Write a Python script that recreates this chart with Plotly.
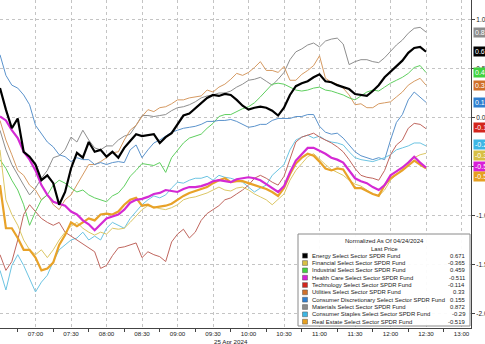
import pandas as pd
import plotly.graph_objects as go

# 5-minute bars, 25 Apr 2024, 06:30 - 12:30
times = pd.date_range("2024-04-25 06:30", periods=73, freq="5min")

funds = [
    "Energy Select Sector SPDR Fund",
    "Financial Select Sector SPDR Fund",
    "Industrial Select Sector SPDR Fund",
    "Health Care Select Sector SPDR Fund",
    "Technology Select Sector SPDR Fund",
    "Utilities Select Sector SPDR Fund",
    "Consumer Discretionary Select Sector SPDR Fund",
    "Materials Select Sector SPDR Fund",
    "Consumer Staples Select Sector SPDR Fund",
    "Real Estate Select Sector SPDR Fund",
]

energy = [0.30, 0.08, -0.11, -0.01, -0.35, -0.40, -0.48, -0.64, -0.59, -0.67,
          -0.89, -0.76, -0.52, -0.36, -0.41, -0.25, -0.35, -0.33, -0.40, -0.35,
          -0.41, -0.31, -0.24, -0.17, -0.19, -0.18, -0.17, -0.26, -0.20, -0.16,
          -0.07, 0.02, 0.04, 0.09, 0.14, 0.20, 0.23, 0.22, 0.24, 0.23,
          0.18, 0.12, 0.08, 0.10, 0.11, 0.10, 0.07, 0.02, 0.10, 0.23,
          0.32, 0.35, 0.37, 0.41, 0.44, 0.37, 0.36, 0.33, 0.31, 0.29,
          0.24, 0.23, 0.22, 0.27, 0.33, 0.41, 0.47, 0.53, 0.58, 0.66,
          0.71, 0.72, 0.671]
financial = [-0.33, -0.84, -0.99, -1.10, -1.25, -1.35, -1.40, -1.35, -1.43, -1.35,
             -1.25, -1.17, -1.11, -1.07, -1.13, -1.17, -1.20, -1.17, -1.19, -1.13,
             -1.14, -1.13, -1.07, -1.01, -0.94, -0.90, -0.91, -0.93, -0.94, -0.92,
             -0.89, -0.84, -0.82, -0.81, -0.79, -0.77, -0.74, -0.71, -0.74, -0.75,
             -0.72, -0.71, -0.74, -0.78, -0.81, -0.84, -0.89, -0.84, -0.78, -0.64,
             -0.54, -0.47, -0.40, -0.37, -0.43, -0.48, -0.53, -0.56, -0.59, -0.64,
             -0.68, -0.70, -0.74, -0.78, -0.80, -0.74, -0.64, -0.58, -0.52, -0.46,
             -0.41, -0.38, -0.365]
industrial = [-0.43, -0.52, -0.64, -0.74, -0.89, -1.10, -0.96, -0.84, -0.79, -0.69,
              -0.64, -0.67, -0.72, -0.76, -0.74, -0.79, -0.82, -0.84, -0.86, -0.80,
              -0.77, -0.70, -0.60, -0.54, -0.47, -0.48, -0.49, -0.46, -0.56, -0.41,
              -0.33, -0.26, -0.21, -0.19, -0.17, -0.11, -0.06, 0.01, 0.03, 0.03,
              0.06, 0.09, 0.11, 0.15, 0.21, 0.28, 0.34, 0.35, 0.34, 0.31,
              0.28, 0.27, 0.28, 0.30, 0.31, 0.28, 0.27, 0.25, 0.23, 0.20,
              0.18, 0.22, 0.26, 0.28, 0.27, 0.31, 0.35, 0.38, 0.41, 0.45,
              0.51, 0.53, 0.459]
health_care = [0.01, -0.03, -0.13, -0.21, -0.35, -0.43, -0.54, -0.69, -0.79, -0.86,
               -0.88, -0.90, -0.96, -0.99, -1.05, -1.09, -1.15, -1.09, -1.03, -1.01,
               -0.99, -0.94, -0.87, -0.84, -0.83, -0.81, -0.78, -0.77, -0.74, -0.75,
               -0.76, -0.73, -0.71, -0.71, -0.70, -0.68, -0.65, -0.64, -0.65, -0.66,
               -0.63, -0.62, -0.61, -0.62, -0.64, -0.68, -0.72, -0.76, -0.70, -0.56,
               -0.44, -0.37, -0.31, -0.31, -0.34, -0.37, -0.41, -0.43, -0.46, -0.54,
               -0.62, -0.65, -0.67, -0.71, -0.74, -0.69, -0.59, -0.55, -0.51, -0.46,
               -0.40, -0.46, -0.511]
technology = [-1.40, -1.56, -1.47, -1.25, -0.99, -0.89, -0.96, -1.03, -1.07, -1.10,
              -1.07, -1.17, -1.21, -1.25, -1.29, -1.33, -1.37, -1.54, -1.51, -1.41,
              -1.33, -1.32, -1.30, -1.28, -1.43, -1.37, -1.40, -1.42, -1.47, -1.27,
              -1.19, -1.14, -1.23, -1.17, -1.05, -0.98, -0.94, -0.90, -0.84, -0.82,
              -0.78, -0.74, -0.69, -0.62, -0.59, -0.62, -0.66, -0.69, -0.60, -0.43,
              -0.25, -0.20, -0.18, -0.16, -0.20, -0.23, -0.26, -0.30, -0.35, -0.43,
              -0.52, -0.59, -0.61, -0.62, -0.64, -0.54, -0.38, -0.28, -0.23, -0.11,
              -0.06, -0.07, -0.114]
utilities = [-0.03, -0.23, -0.38, -0.54, -0.59, -0.69, -0.74, -0.84, -0.79, -0.89,
             -0.94, -0.84, -0.79, -0.69, -0.59, -0.48, -0.48, -0.45, -0.41, -0.36,
             -0.35, -0.23, -0.13, -0.08, 0.01, 0.08, 0.06, 0.10, 0.11, 0.14,
             0.18, 0.18, 0.20, 0.21, 0.22, 0.28, 0.26, 0.31, 0.34, 0.39,
             0.45, 0.43, 0.46, 0.51, 0.57, 0.48, 0.48, 0.46, 0.52, 0.38,
             0.38, 0.44, 0.48, 0.53, 0.63, 0.40, 0.36, 0.34, 0.30, 0.23,
             0.13, 0.14, 0.10, 0.10, 0.14, 0.15, 0.16, 0.21, 0.26, 0.33,
             0.37, 0.40, 0.33]
discretionary = [0.64, 0.43, 0.33, 0.30, 0.23, 0.13, -0.08, -0.16, -0.25, -0.30,
                 -0.38, -0.40, -0.45, -0.41, -0.43, -0.43, -0.48, -0.46, -0.48, -0.46,
                 -0.45, -0.46, -0.33, -0.28, -0.41, -0.33, -0.26, -0.23, -0.19, -0.15,
                 -0.13, -0.11, -0.10, -0.09, -0.07, -0.04, -0.04, -0.03, -0.03, -0.02,
                 -0.04, -0.07, -0.10, -0.09, -0.07, -0.07, -0.03, -0.01, -0.01, -0.01,
                 0.01, 0.01, 0.03, 0.03, -0.09, -0.15, -0.17, -0.16, -0.21, -0.28,
                 -0.35, -0.39, -0.41, -0.43, -0.41, -0.43, -0.23, -0.05, 0.03, 0.18,
                 0.26, 0.21, 0.155]
materials = [-0.13, -0.33, -0.48, -0.59, -0.69, -0.79, -0.72, -0.62, -0.54, -0.41,
             -0.39, -0.33, -0.20, -0.25, -0.13, -0.23, -0.31, -0.33, -0.29, -0.29,
             -0.23, -0.19, -0.17, -0.08, 0.02, 0.02, 0.01, 0.02, 0.03, 0.07,
             0.10, 0.11, 0.13, 0.16, 0.20, 0.22, 0.23, 0.25, 0.25, 0.27,
             0.31, 0.34, 0.38, 0.39, 0.41, 0.37, 0.33, 0.39, 0.46, 0.59,
             0.67, 0.70, 0.74, 0.76, 0.72, 0.78, 0.80, 0.81, 0.75, 0.54,
             0.57, 0.59, 0.59, 0.57, 0.56, 0.61, 0.68, 0.74, 0.79, 0.86,
             0.91, 0.92, 0.872]
staples = [-1.56, -1.76, -1.51, -1.40, -1.51, -1.64, -1.78, -1.68, -1.61, -1.47,
           -1.35, -1.30, -1.25, -1.23, -1.17, -1.25, -1.21, -1.25, -1.13, -1.07,
           -1.10, -1.13, -1.03, -0.96, -0.89, -0.84, -0.80, -0.82, -0.79, -0.72,
           -0.66, -0.67, -0.64, -0.62, -0.62, -0.60, -0.64, -0.59, -0.61, -0.62,
           -0.64, -0.66, -0.71, -0.76, -0.72, -0.69, -0.59, -0.54, -0.48, -0.33,
           -0.23, -0.20, -0.18, -0.21, -0.19, -0.23, -0.25, -0.26, -0.28, -0.35,
           -0.41, -0.43, -0.44, -0.45, -0.43, -0.41, -0.38, -0.33, -0.31, -0.29,
           -0.26, -0.26, -0.29]
real_estate = [-0.69, -1.13, -1.13, -1.23, -1.35, -1.35, -1.43, -1.56, -1.54, -1.48,
               -1.30, -1.20, -1.07, -1.11, -1.07, -1.03, -1.05, -0.99, -0.98, -0.99,
               -0.96, -0.89, -0.84, -0.82, -0.90, -0.89, -0.92, -0.91, -0.90, -0.88,
               -0.84, -0.80, -0.77, -0.75, -0.73, -0.71, -0.67, -0.64, -0.62, -0.66,
               -0.65, -0.65, -0.67, -0.69, -0.71, -0.73, -0.76, -0.80, -0.72, -0.58,
               -0.47, -0.41, -0.37, -0.39, -0.45, -0.52, -0.54, -0.52, -0.53, -0.62,
               -0.72, -0.72, -0.75, -0.78, -0.80, -0.69, -0.62, -0.58, -0.54, -0.49,
               -0.44, -0.48, -0.519]

series = [energy, financial, industrial, health_care, technology,
          utilities, discretionary, materials, staples, real_estate]

legend_colors = ["#000000", "#d8bf45", "#3fd23f", "#d81fd8", "#d4251c",
                 "#d0702a", "#2f7fd0", "#8c8c8c", "#3cb6e4", "#e6a020"]
line_colors = ["#000000", "#dcc765", "#5fcf5f", "#d42ad4", "#c0665e",
               "#d69a62", "#5b93cc", "#8e8e8e", "#6cc4e2", "#e8a228"]
line_widths = [2.2, 1, 1, 2.2, 1, 1, 1, 1, 1, 2.2]
# vertical nudges (pixels) that keep the right-edge value tags apart
tag_shift = [0, -2, 0, 1, 1, 0, 0, 0, 1, -8]

FONT = "Liberation Sans, Arial, sans-serif"

fig = go.Figure()

# thin lines underneath, thick ones on top
draw_order = [7, 5, 2, 6, 8, 4, 1, 9, 3, 0]
for i in draw_order:
    fig.add_trace(go.Scatter(
        x=times, y=series[i], mode="lines", name=funds[i],
        line=dict(color=line_colors[i], width=line_widths[i]),
        showlegend=False, hoverinfo="skip",
    ))

PLOT_W, PLOT_H = 471, 328


def px_x(p):
    return p / PLOT_W


def px_y(p):
    return 1 - p / PLOT_H


annotations = []
shapes = []

# value tags on the right edge
for i in range(len(funds)):
    last = series[i][-1]
    annotations.append(dict(
        xref="paper", x=1, xanchor="left", xshift=2,
        yref="y", y=last, yanchor="middle", yshift=tag_shift[i],
        text=f"{last:.2f}", showarrow=False,
        font=dict(family=FONT, size=7, color="#ffffff"),
        bgcolor=legend_colors[i], borderpad=1,
    ))

# last-price panel
box_l, box_r, box_t, box_b = 298, 470, 234, 326
shapes.append(dict(
    type="rect", xref="paper", yref="paper",
    x0=px_x(box_l), x1=px_x(box_r), y0=px_y(box_b), y1=px_y(box_t),
    fillcolor="rgba(255,255,255,0.93)", line=dict(color="#8a8a8a", width=1),
    layer="above",
))
annotations.append(dict(
    xref="paper", yref="paper", x=px_x((box_l + box_r) / 2), y=px_y(241),
    text="Normalized As Of 04/24/2024", showarrow=False,
    font=dict(family=FONT, size=6, color="#222"), xanchor="center", yanchor="middle",
))
annotations.append(dict(
    xref="paper", yref="paper", x=px_x((box_l + box_r) / 2), y=px_y(248.7),
    text="Last Price", showarrow=False,
    font=dict(family=FONT, size=6, color="#222"), xanchor="center", yanchor="middle",
))
for i, name in enumerate(funds):
    row_y = 255.7 + 7.33 * i
    shapes.append(dict(
        type="rect", xref="paper", yref="paper",
        x0=px_x(302.5), x1=px_x(307.5), y0=px_y(row_y + 2.4), y1=px_y(row_y - 2.4),
        fillcolor=legend_colors[i], line=dict(color="#555", width=0.5), layer="above",
    ))
    annotations.append(dict(
        xref="paper", yref="paper", x=px_x(309.5), y=px_y(row_y),
        text=name, showarrow=False, xanchor="left", yanchor="middle",
        font=dict(family=FONT, size=5.9, color="#222"),
    ))
    val = series[i][-1]
    annotations.append(dict(
        xref="paper", yref="paper", x=px_x(467), y=px_y(row_y),
        text=f"{val:.3f}".rstrip("0"), showarrow=False, xanchor="right", yanchor="middle",
        font=dict(family=FONT, size=5.9, color="#222"),
    ))

# date under the time axis
annotations.append(dict(
    xref="paper", yref="paper", x=px_x(212), y=px_y(341),
    text="25 Apr 2024", showarrow=False, xanchor="left", yanchor="middle",
    font=dict(family=FONT, size=6.2, color="#222"),
))

y_ticks = [1.0, 0.5, 0.0, -0.5, -1.0, -1.5, -2.0]
y_tick_text = ["1.00", "0.50", "0.00", "-0.50", "-1.00", "-1.50", "-2.00"]

fig.update_layout(
    width=485, height=344,
    margin=dict(l=0, r=485 - PLOT_W, t=0, b=344 - PLOT_H),
    paper_bgcolor="white", plot_bgcolor="white",
    font=dict(family=FONT, size=6.5, color="#222"),
    annotations=annotations, shapes=shapes,
    xaxis=dict(
        range=["2024-04-25 06:30", "2024-04-25 13:08"],
        tick0="2024-04-25 07:00", dtick=1800000, tickformat="%H:%M",
        showgrid=True, gridcolor="#c4c4c4", griddash="dot", gridwidth=1,
        showline=True, linecolor="#444", linewidth=1,
        ticks="", ticklen=0, ticklabelstandoff=0,
        minor=dict(tick0="2024-04-25 06:45", dtick=1800000, ticks="outside",
                   ticklen=3, tickcolor="#444", showgrid=False),
        tickfont=dict(family=FONT, size=6.2, color="#222"),
        automargin=False, zeroline=False,
    ),
    yaxis=dict(
        side="right", range=[-2.148, 1.199],
        tickvals=y_ticks, ticktext=y_tick_text,
        showgrid=True, gridcolor="#c4c4c4", griddash="dot", gridwidth=1,
        showline=True, linecolor="#444", linewidth=1,
        ticks="outside", ticklen=3, tickcolor="#444",
        tickfont=dict(family=FONT, size=6.5, color="#222"),
        automargin=False, zeroline=False,
    ),
)

fig.write_html("out.html")
